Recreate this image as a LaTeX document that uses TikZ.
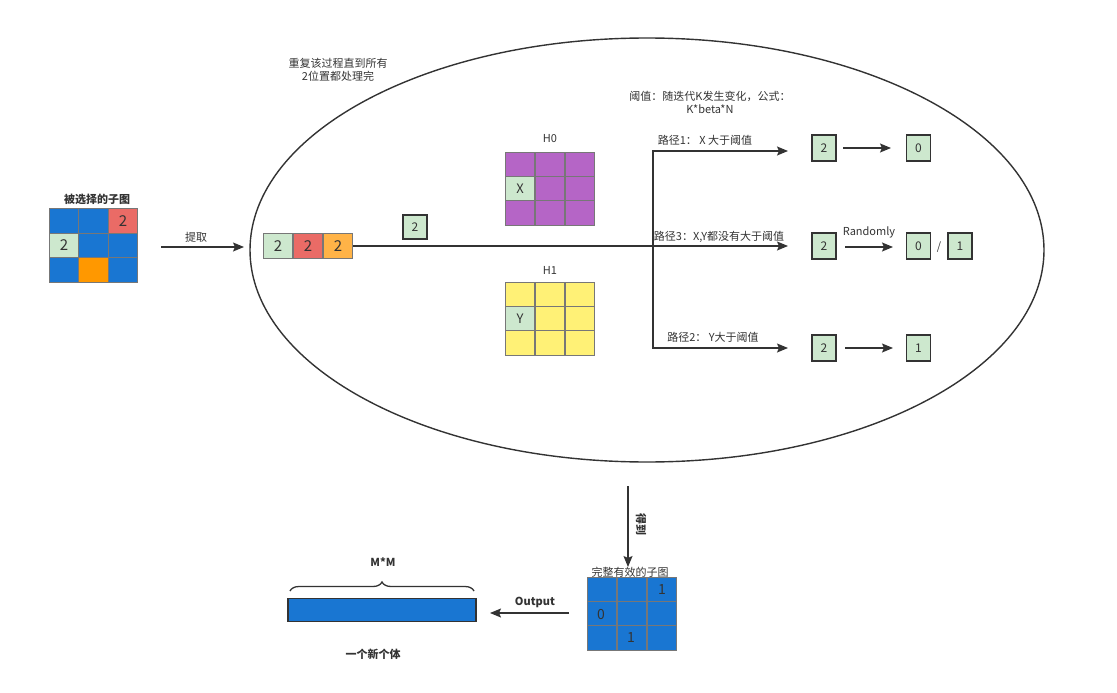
\documentclass[tikz,border=0pt]{standalone}
\usepackage{fontspec}
\setmainfont{Noto Sans CJK SC}
\usetikzlibrary{arrows.meta,decorations.pathreplacing,shapes.geometric}
\definecolor{cblue}{HTML}{1976D2}
\definecolor{cred}{HTML}{EA6B66}
\definecolor{cgreen}{HTML}{CDE8CE}
\definecolor{corange}{HTML}{FF9800}
\definecolor{clorange}{HTML}{FFB347}
\definecolor{cpurple}{HTML}{B565C6}
\definecolor{cyellow}{HTML}{FFF176}
\definecolor{cline}{HTML}{333333}
\definecolor{cgrid}{HTML}{777777}
\definecolor{ctext}{HTML}{333333}
\begin{document}
\begin{tikzpicture}[x=1pt,y=-1pt,
  every node/.style={text=ctext},
  cell/.style={draw=cgrid, line width=1pt, minimum width=29.7pt, minimum height=24.4pt, inner sep=0pt, font=\fontsize{15}{16}\selectfont},
  sbox/.style={draw=cline, line width=1.3pt, fill=cgreen, minimum width=24pt, minimum height=26pt, inner sep=0pt, font=\fontsize{12}{13}\selectfont},
  lbl/.style={font=\fontsize{11}{13}\selectfont, inner sep=1pt},
  blbl/.style={font=\fontsize{11}{13}\selectfont\bfseries, inner sep=1pt},
  arr/.style={draw=cline, line width=1.3pt, -{Stealth[length=11pt,width=9pt,inset=2pt]}},
  ln/.style={draw=cline, line width=1.3pt}]
\useasboundingbox (0,0) rectangle (1117,693);

% ellipse container
\node[ellipse, draw=cline, line width=1.4pt, minimum width=794pt, minimum height=424pt, inner sep=0pt] (ell) at (647,250) {};
\node[lbl, align=center] (rep) at (338,70) {重复该过程直到所有\\2位置都处理完};

% selected subgraph
\node[blbl] (selt) at (97,199) {被选择的子图};
\node[cell, fill=cblue] (s00) at (64,221) {};
\node[cell, fill=cblue] (s01) at (93.5,221) {};
\node[cell, fill=cred] (s02) at (123,221) {2};
\node[cell, fill=cgreen] (s10) at (64,245.5) {2};
\node[cell, fill=cblue] (s11) at (93.5,245.5) {};
\node[cell, fill=cblue] (s12) at (123,245.5) {};
\node[cell, fill=cblue] (s20) at (64,270) {};
\node[cell, fill=corange] (s21) at (93.5,270) {};
\node[cell, fill=cblue] (s22) at (123,270) {};

% extracted row
\coordinate (ex0) at (161,247);
\coordinate (ex1) at (244,247);
\node[cell, fill=cgreen] (r1) at (278,246) {2};
\node[cell, fill=cred] (r2) at (308,246) {2};
\node[cell, fill=clorange] (r3) at (338,246) {2};
\draw[arr] (ex0) -- (ex1);
\node[lbl] (extl) at (196,237) {提取};

\node[sbox, minimum height=24pt] (cur) at (415,227) {2};

% H0
\node[lbl] (h0t) at (550,139) {H0};
\foreach \r/\yy in {0/164.2,1/188.5,2/212.8}{
  \foreach \c/\xx in {0/520,1/550,2/580}{
    \node[cell, fill=cpurple] (h0-\r-\c) at (\xx,\yy) {};
  }
}
\node[cell, fill=cgreen, font=\fontsize{13}{14}\selectfont] (hx) at (520,188.5) {X};

% H1
\node[lbl] (h1t) at (550,270) {H1};
\foreach \r/\yy in {0/294.2,1/318.5,2/342.8}{
  \foreach \c/\xx in {0/520,1/550,2/580}{
    \node[cell, fill=cyellow] (h1-\r-\c) at (\xx,\yy) {};
  }
}
\node[cell, fill=cgreen, font=\fontsize{13}{14}\selectfont] (hy) at (520,318.5) {Y};

% paths
\coordinate (j) at (653,246);
\coordinate (e1) at (788,151);
\coordinate (e3) at (788,246);
\coordinate (e2) at (788,348);
\draw[ln] (r3.east) -- (j);
\draw[arr] (j) |- (e1);
\draw[arr] (j) |- (e2);
\draw[arr] (j) -- (e3);

\node[lbl, align=center] (thr) at (710,102) {阈值：随迭代K发生变化，公式：\\K*beta*N};
\node[lbl] (p1) at (705,140) {路径1： X 大于阈值};
\node[lbl] (p3) at (719,237) {路径3：X,Y都没有大于阈值};
\node[lbl] (p2) at (713,337) {路径2： Y大于阈值};

% results
\node[sbox] (a2) at (824,148) {2};
\node[sbox] (a0) at (918.5,148) {0};
\coordinate (a2s) at (843,148);
\coordinate (a0e) at (891,148);
\draw[arr] (a2s) -- (a0e);

\node[sbox] (b2) at (824,246) {2};
\node[sbox] (b0) at (918.5,246) {0};
\node[lbl] (sl) at (939,247) {/};
\node[sbox] (b1) at (960,246) {1};
\coordinate (b2s) at (845,247);
\coordinate (b0e) at (893,247);
\draw[arr] (b2s) -- (b0e);
\node[lbl] (rnd) at (869,232) {Randomly};

\node[sbox] (c2) at (824,348) {2};
\node[sbox] (c1) at (918.5,348) {1};
\coordinate (c2s) at (845,348);
\coordinate (c1e) at (893,348);
\draw[arr] (c2s) -- (c1e);

% bottom
\node[lbl] (fullt) at (630,572) {完整有效的子图};
\foreach \r/\yy in {0/589.2,1/613.5,2/637.8}{
  \foreach \c/\xx in {0/602,1/632,2/662}{
    \node[cell, fill=cblue] (f-\r-\c) at (\xx,\yy) {};
  }
}
\node[font=\fontsize{14}{15}\selectfont] (f1) at (f-0-2) {1};
\node[font=\fontsize{14}{15}\selectfont] (f0) at (601,615) {0};
\node[font=\fontsize{14}{15}\selectfont] (f2) at (631,638) {1};

\coordinate (dtop) at (628,486);
\coordinate (dbot) at (628,567);
\draw[arr] (dtop) -- (dbot);
\node[blbl, rotate=-90] (get) at (641,524) {得到};

\coordinate (os) at (569,613);
\coordinate (oe) at (490,613);
\draw[arr] (os) -- (oe);
\node[blbl] (outl) at (535,602) {Output};

\node[draw=cline, line width=1.3pt, fill=cblue, minimum width=188pt, minimum height=23pt, inner sep=0pt] (bar) at (382,610) {};
\draw[ln, decorate, decoration={brace, amplitude=9pt}] (290,591) -- (474,591);
\node[blbl] (mm) at (383,562) {M*M};
\node[blbl] (newind) at (373,654) {一个新个体};
\end{tikzpicture}
\end{document}
